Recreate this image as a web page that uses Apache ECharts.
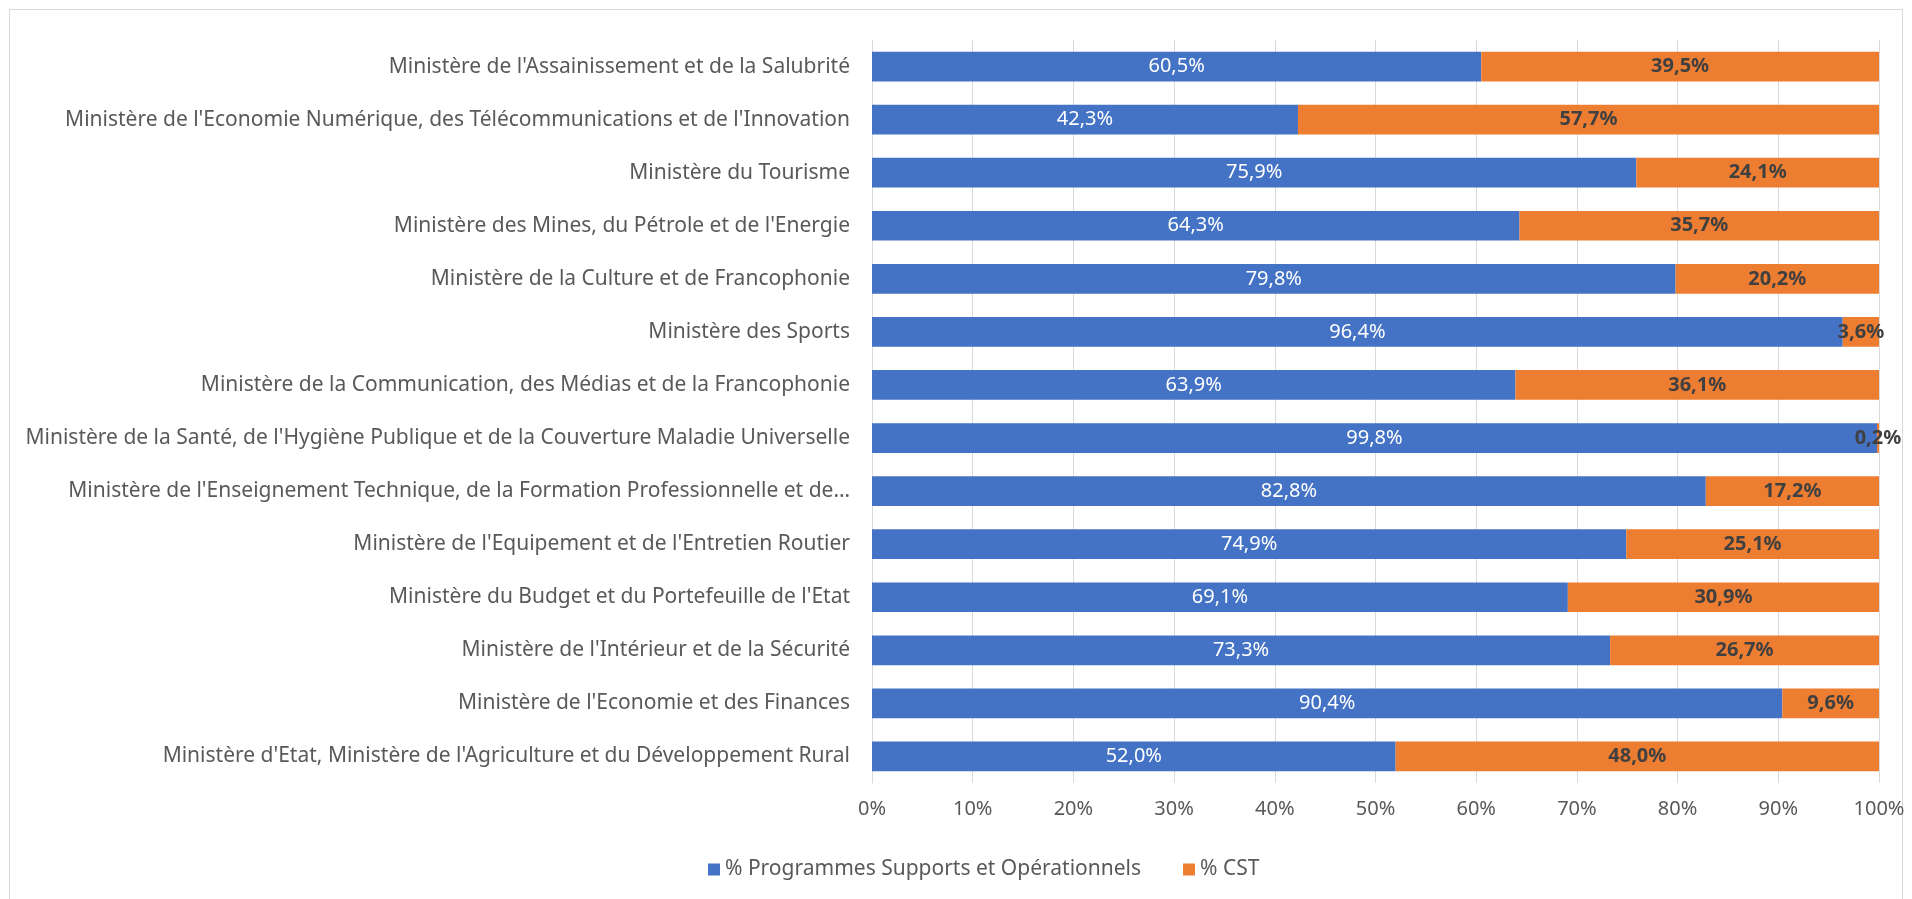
<!DOCTYPE html>
<html>
<head>
<meta charset="utf-8">
<script src="https://cdn.jsdelivr.net/npm/echarts@6/dist/echarts.min.js"></script>
<style>
  html, body { margin: 0; padding: 0; background: #fff; }
  #chart { width: 1912px; height: 899px; }
</style>
</head>
<body>
<div id="chart"></div>
<script>
// categories, top to bottom as in the picture
var ministeres = [
  "Ministère de l'Assainissement et de la Salubrité",
  "Ministère de l'Economie Numérique, des Télécommunications et de l'Innovation",
  "Ministère du Tourisme",
  "Ministère des Mines, du Pétrole et de l'Energie",
  "Ministère de la Culture et de Francophonie",
  "Ministère des Sports",
  "Ministère de la Communication, des Médias et de la Francophonie",
  "Ministère de la Santé, de l'Hygiène Publique et de la Couverture Maladie Universelle",
  "Ministère de l'Enseignement Technique, de la Formation Professionnelle et de…",
  "Ministère de l'Equipement et de l'Entretien Routier",
  "Ministère du Budget et du Portefeuille de l'Etat",
  "Ministère de l'Intérieur et de la Sécurité",
  "Ministère de l'Economie et des Finances",
  "Ministère d'Etat, Ministère de l'Agriculture et du Développement Rural"
];
var pctProgrammes = [60.5, 42.3, 75.9, 64.3, 79.8, 96.4, 63.9, 99.8, 82.8, 74.9, 69.1, 73.3, 90.4, 52.0];
var pctCST = [39.5, 57.7, 24.1, 35.7, 20.2, 3.6, 36.1, 0.2, 17.2, 25.1, 30.9, 26.7, 9.6, 48.0];
var seriesNames = ['% Programmes Supports et Opérationnels', '% CST'];

var FONT = 'Noto Sans';

function pctLabel(p) {
  return p.value.toFixed(1).replace('.', ',') + '%';
}

var chart = echarts.init(document.getElementById('chart'));
var option = {
  animation: false,
  textStyle: { fontFamily: FONT },
  graphic: [{
    type: 'rect',
    shape: { x: 9.5, y: 9.5, width: 1893, height: 895 },
    style: { fill: 'none', stroke: '#d9d9d9', lineWidth: 1 },
    silent: true
  }],
  grid: { left: 872, right: 33, top: 40, bottom: 116 },
  legend: {
    data: seriesNames,
    bottom: 14,
    left: 703,
    itemWidth: 12,
    itemHeight: 12,
    itemGap: 42,
    icon: 'rect',
    textStyle: { color: '#595959', fontSize: 21, fontFamily: FONT }
  },
  xAxis: {
    type: 'value',
    min: 0,
    max: 100,
    interval: 10,
    axisLine: { show: false },
    axisTick: { show: false },
    splitLine: { lineStyle: { color: '#d9d9d9', width: 1 } },
    axisLabel: {
      color: '#595959',
      fontSize: 20,
      margin: 16,
      formatter: function(v) { return v + '%'; }
    }
  },
  yAxis: {
    type: 'category',
    inverse: true,
    data: ministeres,
    axisLine: { lineStyle: { color: '#d9d9d9' } },
    axisTick: { show: false },
    axisLabel: { color: '#595959', fontSize: 21, margin: 22 }
  },
  series: [
    {
      name: seriesNames[0],
      type: 'bar',
      stack: 'total',
      barCategoryGap: '44%',
      itemStyle: { color: '#4472C4' },
      label: {
        show: true,
        position: 'inside',
        color: '#ffffff',
        fontSize: 20,
        formatter: pctLabel
      },
      data: pctProgrammes
    },
    {
      name: seriesNames[1],
      type: 'bar',
      stack: 'total',
      itemStyle: { color: '#ED7D31' },
      label: {
        show: true,
        position: 'inside',
        color: '#404040',
        fontWeight: 'bold',
        fontSize: 20,
        formatter: pctLabel
      },
      data: pctCST
    }
  ]
};
chart.setOption(option);
</script>
</body>
</html>
